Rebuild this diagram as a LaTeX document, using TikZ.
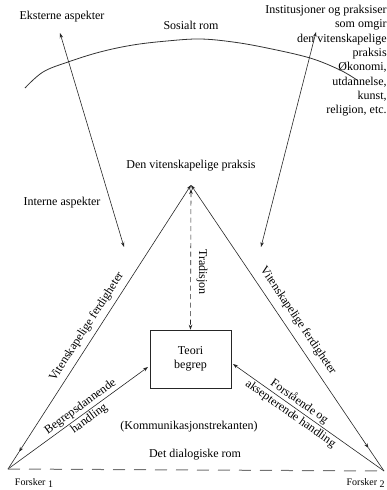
\documentclass[tikz,border=0pt]{standalone}
\usepackage{fontspec}
\setmainfont{Liberation Serif}
\usetikzlibrary{arrows.meta,calc}
\begin{document}
\begin{tikzpicture}[x=1pt,y=-1pt,
  font=\fontsize{12}{14.3}\selectfont,
  line width=0.6pt,
  conn/.style={draw=black!85},
  both/.style={conn,{Stealth[length=5pt,width=3.5pt]}-{Stealth[length=5pt,width=3.5pt]}},
  onetip/.style={conn,-{Stealth[length=5pt,width=3.5pt]}},
  lbl/.style={inner sep=1pt},
  small/.style={font=\fontsize{10}{12}\selectfont},
  boxstyle/.style={draw=black!85,minimum width=81pt,minimum height=58pt,align=center,inner sep=2pt}]
\useasboundingbox (0,0) rectangle (386,490);

% social space arc
\draw[black!80,line width=0.8pt] plot[smooth,tension=0.6] coordinates
  {(25,88) (43,72) (68,62) (100,52) (133,45) (167,41) (200,39) (233,42) (267,48) (310,58) (340,70) (357,80)};

% labels top
\node[lbl] (ekst) at (62,17) {Eksterne aspekter};
\node[lbl] (sos) at (191,25) {Sosialt rom};
\node[lbl,anchor=north east,align=right,inner sep=0pt] (inst) at (387,5)
  {Institusjoner og praksiser\\som omgir\\den vitenskapelige\\praksis\\Økonomi,\\utdannelse,\\kunst,\\religion, etc.};
\node[lbl] (intern) at (62,203) {Interne aspekter};
\node[lbl] (praksis) at (191,166) {Den vitenskapelige praksis};

% external / internal arrows
\coordinate (e1) at (60,33);
\coordinate (e2) at (124,247);
\draw[both] (e1) -- (e2);
\coordinate (r1) at (316,32);
\coordinate (r2) at (261,247);
\draw[both] (r1) -- (r2);

% triangle
\coordinate (apex) at (191,185);
\coordinate (v1) at (8,469);
\coordinate (v2) at (384,471);
\node[boxstyle] (box) at (190.5,359) {Teori\\begrep};

\coordinate (tipL) at ($(apex)!0.94!(v1)$);
\draw[both] (apex) -- (tipL);
\draw[conn] (tipL) -- (v1);
\coordinate (tipR) at ($(apex)!0.92!(v2)$);
\draw[both] (apex) -- (tipR);
\draw[conn] (tipR) -- (v2);

\path (v1) -- (apex) node[pos=0.48,sloped,above=4pt,lbl] (vfL) {Vitenskapelige ferdigheter};
\path (apex) -- (v2) node[pos=0.5,sloped,above=6pt,lbl] (vfR) {Vitenskapelige ferdigheter};

% tradition
\coordinate (tr1) at (191,189);
\draw[both,dash pattern=on 5pt off 3.5pt] (tr1) -- (box.north);
\node[lbl,rotate=-90] (trad) at (202,272) {Tradisjon};

% actions
\coordinate (bL) at (148,367);
\coordinate (bR) at (233,364);
\draw[onetip] (v1) -- (bL) node[pos=0.55,sloped,align=center,lbl,font=\fontsize{12}{15}\selectfont] (beg) {Begrepsdannende\\handling};
\draw[onetip] (v2) -- (bR);
\path (bR) -- (v2) node[pos=0.41,sloped,align=center,lbl,font=\fontsize{12}{15}\selectfont] (forst) {Forstående og\\aksepterende handling};

\node[lbl] (kom) at (189,427) {(Kommunikasjonstrekanten)};
\node[lbl] (dial) at (195,455) {Det dialogiske rom};

% dialogical baseline
\draw[black!55,line width=1pt,dash pattern=on 12pt off 9pt] (v1) -- (v2);

\node[lbl,small] (f1) at (34,483) {Forsker~\raisebox{-0.4ex}{1}};
\node[lbl,small,anchor=east] (f2) at (386,483) {Forsker~\raisebox{-0.4ex}{2}};
\end{tikzpicture}
\end{document}
